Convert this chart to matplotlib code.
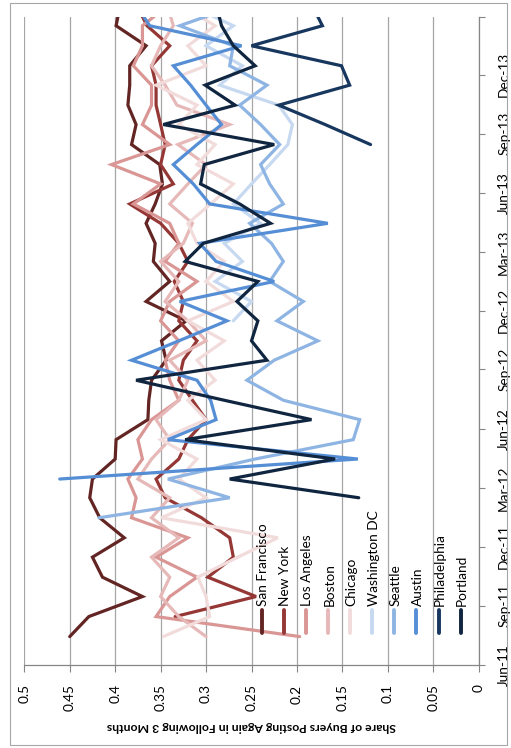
import numpy as np
import pandas as pd
import matplotlib
matplotlib.use('Agg')
import matplotlib.pyplot as plt
import matplotlib.dates as mdates
from matplotlib.patches import Rectangle

plt.rcParams['font.family'] = ['Lato', 'DejaVu Sans']

# monthly data, Jun-11 .. Feb-14 (None = no data yet)
months = pd.date_range('2011-06-15', periods=33, freq='MS') + pd.Timedelta(days=14)

san_francisco = [0.450, 0.429, 0.370, 0.414, 0.425, 0.390, 0.417, 0.428, 0.425, 0.400, 0.399,
                 0.364, 0.363, 0.360, 0.344, 0.349, 0.322, 0.366, 0.340, 0.358, 0.356, 0.366,
                 0.356, 0.348, 0.351, 0.382, 0.377, 0.386, 0.384, 0.384, 0.366, 0.399, 0.395]
new_york = [None, 0.334, 0.245, 0.298, 0.270, 0.274, 0.305, 0.345, 0.355, 0.330, 0.320,
            0.300, 0.315, 0.330, 0.325, 0.310, 0.330, 0.325, 0.335, 0.320, 0.330, 0.350,
            0.384, 0.336, 0.350, 0.345, 0.350, 0.355, 0.355, 0.360, 0.340, 0.365, 0.375]
los_angeles = [0.197, 0.355, 0.340, 0.310, 0.355, 0.320, 0.382, 0.377, 0.386, 0.370, 0.375,
               0.360, 0.330, 0.340, 0.345, 0.330, 0.350, 0.340, 0.310, 0.345, 0.330, 0.340,
               0.380, 0.350, 0.404, 0.340, 0.370, 0.360, 0.360, 0.380, 0.370, 0.370, 0.345]
boston = [0.300, 0.330, 0.350, 0.340, 0.360, 0.330, 0.360, 0.340, 0.375, 0.360, 0.340,
          0.355, 0.330, 0.320, 0.340, 0.300, 0.320, 0.345, 0.330, 0.350, 0.325, 0.315,
          0.340, 0.320, 0.300, 0.331, 0.274, 0.332, 0.345, 0.360, 0.350, 0.336, 0.342]
chicago = [0.347, 0.296, 0.300, 0.309, 0.265, 0.221, 0.349, 0.300, 0.330, 0.310, 0.350,
           0.300, 0.320, 0.290, 0.310, 0.280, 0.320, 0.270, 0.300, 0.280, 0.310, 0.320,
           0.295, 0.270, 0.310, 0.290, 0.330, 0.310, 0.355, 0.300, 0.320, 0.290, 0.323]
washington_dc = [None] * 16 + [0.270, 0.250, 0.290, 0.260, 0.280, 0.240, 0.270, 0.250, 0.230,
                               0.210, 0.205, 0.220, 0.285, 0.260, 0.300, 0.270, 0.313]
seattle = [None] * 6 + [0.418, 0.274, 0.342, 0.246, 0.138, 0.131, 0.215, 0.255, 0.225, 0.177,
                        0.222, 0.193, 0.230, 0.215, 0.228, 0.252, 0.215, 0.230, 0.240, 0.219,
                        0.240, 0.263, 0.233, 0.274, 0.270, 0.329, 0.272]
austin = [None] * 8 + [0.461, 0.133, 0.342, 0.289, 0.295, 0.310, 0.382, 0.330, 0.277, 0.329,
                       0.225, 0.289, 0.307, 0.166, 0.296, 0.314, 0.336, 0.310, 0.283, 0.300,
                       0.317, 0.336, 0.261, 0.362, 0.375]
philadelphia = [None] * 25 + [0.119, 0.169, 0.220, 0.142, 0.151, 0.250, 0.172, 0.182]
portland = [None] * 7 + [0.132, 0.274, 0.158, 0.323, 0.184, 0.280, 0.377, 0.233, 0.250, 0.243,
                         0.266, 0.243, 0.323, 0.303, 0.229, 0.263, 0.306, 0.302, 0.225, 0.347,
                         0.268, 0.301, 0.246, 0.270, 0.283, 0.288]

cities = ['San Francisco', 'New York', 'Los Angeles', 'Boston', 'Chicago',
          'Washington DC', 'Seattle', 'Austin', 'Philadelphia', 'Portland']
series = [san_francisco, new_york, los_angeles, boston, chicago,
          washington_dc, seattle, austin, philadelphia, portland]
colors = ['#632523', '#953735', '#D99694', '#E6B9B8', '#F2DCDB',
          '#C6D9F1', '#8EB4E3', '#558ED5', '#17375E', '#10253F']

axis_end = pd.Timestamp('2014-03-01')

W, H = 511, 748
fig = plt.figure(figsize=(W / 100, H / 100), dpi=100)
# chart border
fig.patches.append(Rectangle((10 / W, 3 / H), 497 / W, 742 / H, transform=fig.transFigure,
                             fill=False, edgecolor='#A6A6A6', linewidth=0.8))

# chart is drawn turned on its side: value axis runs right-to-left along the bottom
ax = fig.add_axes([24.3 / W, 83 / H, 454.4 / W, 648.3 / H])

for vals, col in zip(series, colors):
    v = np.array([np.nan if x is None else x for x in vals], dtype=float)
    ax.plot(v, months, color=col, lw=2.3, solid_joinstyle='miter', solid_capstyle='round')

ax.set_xlim(0.5, 0)
ax.set_ylim(pd.Timestamp('2011-06-01'), axis_end)
ax.set_xticks(np.arange(0, 0.51, 0.05))
ax.set_xticklabels(['0', '0.05', '0.1', '0.15', '0.2', '0.25', '0.3', '0.35', '0.4', '0.45', '0.5'])
ax.xaxis.grid(True, color='#A6A6A6', lw=0.9)
ax.set_axisbelow(True)

# date ticks every 3 months; the last one (axis end) has no label
def date_label(val, pos):
    d = mdates.num2date(val)
    if d.replace(tzinfo=None) >= axis_end:
        return ''
    return d.strftime('%b-%y')

ax.yaxis.tick_right()
ax.yaxis.set_major_locator(mdates.MonthLocator(bymonth=[3, 6, 9, 12]))
ax.yaxis.set_major_formatter(plt.FuncFormatter(date_label))

for side in ['top', 'left']:
    ax.spines[side].set_visible(False)
for side in ['bottom', 'right']:
    ax.spines[side].set_color('#868686')
    ax.spines[side].set_linewidth(0.9)

ax.tick_params(axis='x', direction='out', length=5, color='#868686', pad=9,
               labelsize=9.8, labelrotation=90)
ax.tick_params(axis='y', direction='out', length=4, color='#868686', pad=10,
               labelsize=9.8, labelrotation=90)
for lab in ax.get_xticklabels():
    lab.set_va('top')
    lab.set_ha('center')
for lab in ax.get_yticklabels():
    lab.set_va('center')
    lab.set_ha('left')

ax.set_xlabel('Share of Buyers Posting Again in Following 3 Months', fontsize=8.8,
              fontweight='bold', rotation=180, labelpad=7)

# legend, turned like the rest of the chart
x0, dx = (261.7 - 24.3) / 454.4, 22.1 / 454.4
for k, (name, col) in enumerate(zip(cities, colors)):
    xk = x0 + k * dx
    ax.plot([xk, xk], [0.0494, 0.0848], color=col, lw=2.8, transform=ax.transAxes,
            solid_capstyle='round')
    ax.text(xk + 0.003, 0.091, name, rotation=90, ha='center', va='bottom',
            fontsize=9.8, transform=ax.transAxes)

fig.savefig('out.png', dpi=100)
